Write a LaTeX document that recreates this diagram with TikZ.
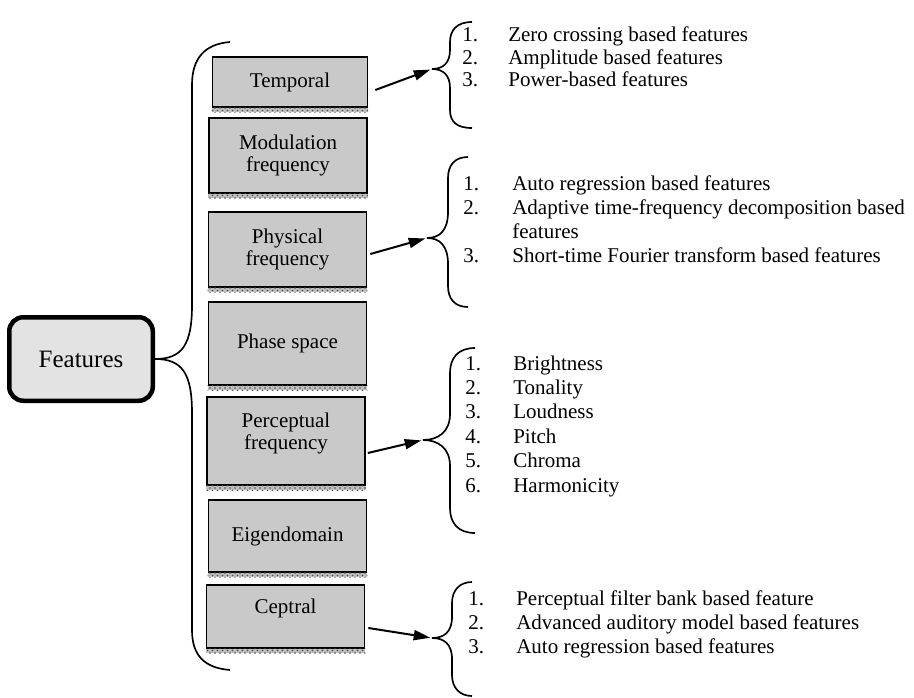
\documentclass[tikz,border=0pt]{standalone}
\usepackage{fontspec}
\setmainfont{Liberation Serif}
\usetikzlibrary{arrows.meta,calc,patterns}

\tikzset{
    catbox/.style={draw, line width=1pt, fill=black!21, minimum width=94.8pt, inner sep=0pt, align=center, font=\fontsize{12.6}{12.9}\selectfont},
    boxshadow/.style={fill=black!25, postaction={pattern=crosshatch dots, pattern color=black!70}},
    curlyline/.style={line width=1pt},
    arrowline/.style={line width=1.2pt, shorten >=1pt, -{Triangle[length=10pt,width=6pt]}},
    itemlist/.style={anchor=base west, inner sep=0pt, font=\fontsize{12.6}{#1}\selectfont}
}

\begin{document}
\begin{tikzpicture}[x=0.6pt,y=-0.6pt]
            \useasboundingbox (0,0) rectangle (914,698);

            \node[draw, line width=2.7pt, rounded corners=8.4pt, fill=black!11, minimum width=86.1pt, minimum height=50.1pt, font=\fontsize{15}{18}\selectfont] (features) at (81,359) {Features};

            \node[catbox, minimum width=93pt, minimum height=30pt] (temporal) at (290,82) {Temporal};
            \node[catbox, minimum height=45pt] (modulation) at (288,155.5) {Modulation\\frequency};
            \node[catbox, minimum height=45pt] (physical) at (287.5,249.5) {Physical\\frequency};
            \node[catbox, minimum height=49.8pt] (phase) at (287.5,343.5) {Phase space};
            \node[catbox, minimum height=52.8pt, text depth=12pt] (perceptual) at (286,441) {Perceptual\\frequency};
            \node[catbox, minimum height=43.2pt] (eigen) at (287.5,536) {Eigendomain};
            \node[catbox, minimum height=37.8pt, text depth=12pt] (ceptral) at (285.5,616.5) {Ceptral};

            \fill[boxshadow] (temporal.south west) rectangle ($(temporal.south east)+(0,4.5)$);
            \fill[boxshadow] (modulation.south west) rectangle ($(modulation.south east)+(0,4.5)$);
            \fill[boxshadow] (physical.south west) rectangle ($(physical.south east)+(0,4.5)$);
            \fill[boxshadow] (phase.south west) rectangle ($(phase.south east)+(0,4.5)$);
            \fill[boxshadow] (perceptual.south west) rectangle ($(perceptual.south east)+(0,4.5)$);
            \fill[boxshadow] (eigen.south west) rectangle ($(eigen.south east)+(0,4.5)$);
            \fill[boxshadow] (ceptral.south west) rectangle ($(ceptral.south east)+(0,4.5)$);

            % big brace
            \draw[curlyline] (230,42) .. controls (205,44) and (192,58) .. (192,85) -- (192,305)
                .. controls (192,345) and (182,359) .. (features.east)
                .. controls (182,359) and (192,373) .. (192,413) -- (192,630)
                .. controls (192,656) and (205,668) .. (230,670);

            % Temporal
            \coordinate (temptip) at (432,69);
            \draw[curlyline] (472,22) .. controls (457,22) and (450,30) .. (450,42) -- (450,50)
                .. controls (450,63) and (443,69) .. (temptip)
                .. controls (443,69) and (450,75) .. (450,88) -- (450,110)
                .. controls (450,122) and (457,128) .. (472,128);
            \draw[arrowline] ($(temporal.east)+(7,8)$) -- (temptip);
            \node[itemlist=13.5pt] (templist) at (462,42) {\begin{tabular}[t]{@{}p{27.6pt}@{}l@{}}1. & Zero crossing based features\\2. & Amplitude based features\\3. & Power-based features\end{tabular}};

            % Physical frequency
            \coordinate (phystip) at (427,238);
            \draw[curlyline] (468,157) .. controls (455,157) and (448,165) .. (448,178) -- (448,212)
                .. controls (448,230) and (440,238) .. (phystip)
                .. controls (440,238) and (448,246) .. (448,264) -- (448,286)
                .. controls (448,299) and (455,307) .. (468,307);
            \draw[arrowline] ($(physical.east)+(3,4.5)$) -- (phystip);
            \node[itemlist=14.4pt] (physlist) at (463,190) {\begin{tabular}[t]{@{}p{29.4pt}@{}l@{}}1. & Auto regression based features\\2. & Adaptive time-frequency decomposition based\\ & features\\3. & Short-time Fourier transform based features\end{tabular}};

            % Perceptual frequency
            \coordinate (perctip) at (423,440);
            \draw[curlyline] (475,348) .. controls (458,348) and (450,358) .. (450,373) -- (450,414)
                .. controls (450,432) and (438,440) .. (perctip)
                .. controls (438,440) and (450,448) .. (450,466) -- (450,508)
                .. controls (450,523) and (458,533) .. (475,533);
            \draw[arrowline] ($(perceptual.east)+(2,12)$) -- (perctip);
            \node[itemlist=14.64pt] (perclist) at (465,370) {\begin{tabular}[t]{@{}p{28.8pt}@{}l@{}}1. & Brightness\\2. & Tonality\\3. & Loudness\\4. & Pitch\\5. & Chroma\\6. & Harmonicity\end{tabular}};

            % Ceptral
            \coordinate (ceptip) at (432,638);
            \draw[curlyline] (472,582) .. controls (460,582) and (452,590) .. (452,603) -- (452,617)
                .. controls (452,632) and (444,638) .. (ceptip)
                .. controls (444,638) and (452,644) .. (452,659) -- (452,675)
                .. controls (452,688) and (460,696) .. (472,696);
            \draw[arrowline] ($(ceptral.east)+(3,11.5)$) -- (ceptip);
            \node[itemlist=14.4pt] (ceplist) at (468,605) {\begin{tabular}[t]{@{}p{28.8pt}@{}l@{}}1. & Perceptual filter bank based feature\\2. & Advanced auditory model based features\\3. & Auto regression based features\end{tabular}};
        \end{tikzpicture}
\end{document}
